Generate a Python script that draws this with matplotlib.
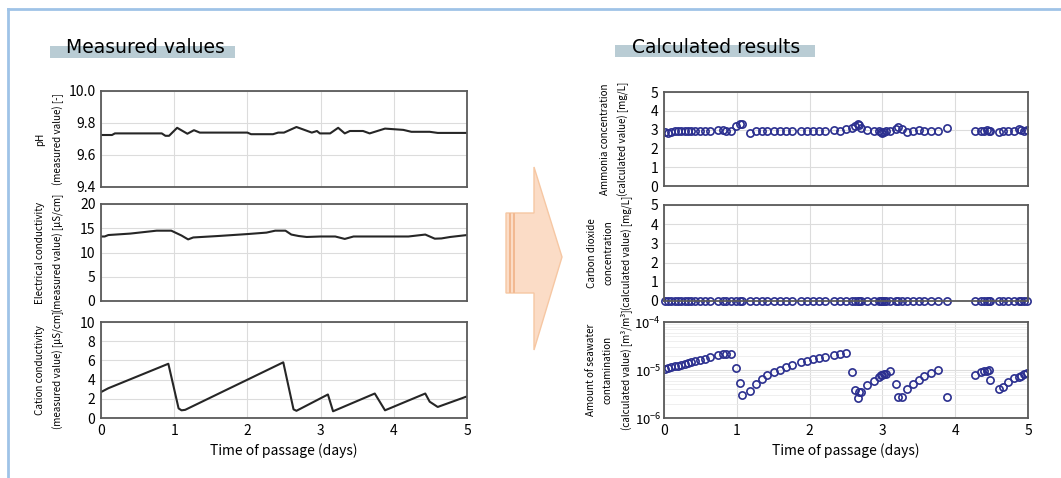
import numpy as np
import matplotlib
matplotlib.use('Agg')
import matplotlib.pyplot as plt
from matplotlib.patches import Polygon, Rectangle
from matplotlib.lines import Line2D
from matplotlib.ticker import LogLocator, NullFormatter

# ---- measured values (left) ----
ph_t = [0, 0.15, 0.19, 0.83, 0.88, 0.93, 1.04, 1.18, 1.27, 1.35, 2.0, 2.05, 2.35, 2.42, 2.5, 2.67,
        2.88, 2.95, 2.99, 3.13, 3.24, 3.33, 3.4, 3.58, 3.67, 3.88, 4.13, 4.24, 4.49, 4.6, 5.0]
ph_v = [9.725, 9.725, 9.735, 9.735, 9.72, 9.72, 9.77, 9.733, 9.755, 9.74, 9.74, 9.73, 9.73, 9.74, 9.74, 9.775,
        9.74, 9.75, 9.735, 9.735, 9.77, 9.735, 9.75, 9.75, 9.735, 9.765, 9.757, 9.745, 9.745, 9.738, 9.738]

ec_t = [0, 0.05, 0.1, 0.4, 0.76, 0.96, 1.1, 1.19, 1.26, 1.6, 2.0, 2.26, 2.38, 2.52, 2.6, 2.7,
        2.81, 3.0, 3.2, 3.33, 3.45, 3.8, 4.2, 4.43, 4.56, 4.65, 4.77, 5.0]
ec_v = [13.3, 13.3, 13.6, 13.9, 14.5, 14.5, 13.5, 12.7, 13.1, 13.4, 13.8, 14.1, 14.5, 14.5, 13.7, 13.4,
        13.2, 13.3, 13.3, 12.8, 13.3, 13.3, 13.3, 13.7, 12.85, 12.9, 13.2, 13.6]

cc_t = [0, 0.1, 0.92, 1.06, 1.1, 1.15, 2.49, 2.63, 2.67, 3.1, 3.17, 3.74, 3.88, 4.43, 4.49, 4.6, 5.0]
cc_v = [2.7, 3.1, 5.65, 1.0, 0.8, 0.85, 5.8, 0.9, 0.75, 2.45, 0.7, 2.55, 0.8, 2.55, 1.7, 1.15, 2.25]

# ---- calculated results (right) ----
calc_t = [0.01, 0.055, 0.10, 0.147, 0.192, 0.238, 0.284, 0.329, 0.375, 0.421, 0.49, 0.558, 0.627, 0.741, 0.81, 0.856, 0.915,
          0.993, 1.038, 1.07, 1.176, 1.258, 1.34, 1.418, 1.505, 1.587, 1.67, 1.752, 1.885, 1.967, 2.044, 2.127, 2.218, 2.342, 2.424, 2.506,
          2.584, 2.63, 2.66, 2.675, 2.71, 2.79, 2.88, 2.95, 2.98, 3.0, 3.02, 3.05, 3.11, 3.18, 3.215, 3.27, 3.34, 3.42, 3.5, 3.577, 3.67, 3.76, 3.887,
          4.276, 4.357, 4.40, 4.44, 4.46, 4.482, 4.605, 4.65, 4.73, 4.81, 4.87, 4.91, 4.94, 4.98]

ammonia = [2.85, 2.8, 2.85, 2.9, 2.9, 2.9, 2.9, 2.9, 2.9, 2.9, 2.95, 2.95, 2.95, 3.0, 3.0, 2.95, 2.9,
           3.2, 3.3, 3.3, 2.8, 2.95, 2.9, 2.95, 2.95, 2.95, 2.95, 2.95, 2.95, 2.95, 2.9, 2.95, 2.95, 3.0, 2.95, 3.05,
           3.1, 3.2, 3.3, 3.25, 3.1, 3.0, 2.9, 2.95, 2.85, 2.8, 2.85, 2.9, 2.95, 3.05, 3.15, 3.05, 2.85, 2.95, 3.0, 2.95, 2.95, 2.9, 3.1,
           2.95, 2.95, 2.9, 3.0, 2.95, 2.95, 2.85, 2.95, 2.9, 2.95, 3.05, 3.0, 2.9, 3.0]

co2 = [0.0] * len(calc_t)

seawater = [1.06e-5, 1.11e-5, 1.15e-5, 1.20e-5, 1.24e-5, 1.30e-5, 1.35e-5, 1.39e-5, 1.46e-5, 1.53e-5, 1.61e-5, 1.71e-5, 1.85e-5, 2.01e-5, 2.11e-5, 2.14e-5, 2.18e-5,
            1.09e-5, 5.30e-6, 2.97e-6, 3.66e-6, 5.14e-6, 6.43e-6, 8.05e-6, 9.0e-6, 1.01e-5, 1.13e-5, 1.28e-5, 1.46e-5, 1.56e-5, 1.66e-5, 1.74e-5, 1.85e-5, 2.04e-5, 2.14e-5, 2.21e-5,
            9.0e-6, 3.91e-6, 2.57e-6, 3.44e-6, 3.47e-6, 4.9e-6, 6.0e-6, 7.3e-6, 7.76e-6, 7.94e-6, 8.13e-6, 8.3e-6, 9.4e-6, 5.1e-6, 2.79e-6, 2.79e-6, 4.05e-6, 5.1e-6, 6.24e-6, 7.67e-6, 8.57e-6, 9.77e-6, 2.70e-6,
            8.05e-6, 9.0e-6, 9.55e-6, 9.66e-6, 9.77e-6, 6.24e-6, 4.05e-6, 4.37e-6, 5.5e-6, 6.76e-6, 7.24e-6, 7.67e-6, 8.13e-6, 8.6e-6]

days = [0, 1, 2, 3, 4, 5]

plt.rcParams['font.family'] = ['Noto Sans CJK JP', 'DejaVu Sans']
spine_col = '#5a5a5a'
grid_col = '#dcdcdc'
mark_col = '#2b2f8f'

fig = plt.figure(figsize=(10.61, 4.78), dpi=100)
W, H = 1061, 478


def box(x0, y0, x1, y1):
    return [x0 / W, 1 - y1 / H, (x1 - x0) / W, (y1 - y0) / H]


def style(ax, yticks, ylabel, show_x, label_x, fmt=None):
    ax.set_xlim(0, 5)
    ax.set_xticks(days)
    ax.grid(True, color=grid_col, lw=0.8)
    ax.set_axisbelow(True)
    for s in ax.spines.values():
        s.set_color(spine_col)
        s.set_linewidth(1.3)
    ax.tick_params(length=0, labelsize=10, pad=4)
    if yticks is not None:
        ax.set_yticks(yticks)
        if fmt:
            ax.set_yticklabels([fmt.format(v) for v in yticks])
    if show_x:
        ax.set_xticklabels([str(d) for d in days])
        ax.set_xlabel('Time of passage (days)', fontsize=10, labelpad=4)
    else:
        ax.set_xticklabels([])
    ax.set_ylabel(ylabel, fontsize=7.1, linespacing=1.85)
    ax.yaxis.set_label_coords(label_x, 0.5)


# left column
ax1 = fig.add_axes(box(101, 91, 467, 187))
ax1.plot(ph_t, ph_v, color='#262626', lw=1.5)
ax1.set_ylim(9.4, 10.0)
style(ax1, [9.4, 9.6, 9.8, 10.0], 'pH\n(measured value) [-]', False, -0.1, '{:.1f}')

ax2 = fig.add_axes(box(101, 204, 467, 301))
ax2.plot(ec_t, ec_v, color='#262626', lw=1.5)
ax2.set_ylim(0, 20)
style(ax2, [0, 5, 10, 15, 20], 'Electrical conductivity\n(measured value) [\u03bcS/cm]', False, -0.1)

ax3 = fig.add_axes(box(101, 322, 467, 418))
ax3.plot(cc_t, cc_v, color='#262626', lw=1.5)
ax3.set_ylim(0, 10)
style(ax3, [0, 2, 4, 6, 8, 10], 'Cation conductivity\n(measured value) [\u03bcS/cm]', True, -0.1)

# right column
mk = dict(marker='o', ls='none', ms=5.2, mfc='none', mec=mark_col, mew=1.2)

ax4 = fig.add_axes(box(664, 92, 1028, 186))
ax4.plot(calc_t, ammonia, **mk)
ax4.set_ylim(0, 5)
style(ax4, [0, 1, 2, 3, 4, 5], 'Ammonia concentration\n(calculated value) [mg/L]', False, -0.095)

ax5 = fig.add_axes(box(664, 205, 1028, 301))
ax5.plot(calc_t, co2, clip_on=False, **mk)
ax5.set_ylim(0, 5)
style(ax5, [0, 1, 2, 3, 4, 5], 'Carbon dioxide\nconcentration\n(calculated value) [mg/L]', False, -0.085)

ax6 = fig.add_axes(box(664, 322, 1028, 418))
ax6.plot(calc_t, seawater, **mk)
ax6.set_yscale('log')
ax6.set_ylim(1e-6, 1e-4)
style(ax6, None, 'Amount of seawater\ncontamination\n(calculated value) [m\u00b3/m\u00b3]', True, -0.088)
ax6.yaxis.set_major_locator(LogLocator(base=10, numticks=5))
ax6.yaxis.set_minor_locator(LogLocator(base=10, subs=np.arange(2, 10), numticks=20))
ax6.yaxis.set_minor_formatter(NullFormatter())
ax6.grid(True, which='minor', axis='y', color='#ececec', lw=0.6)
ax6.tick_params(which='minor', length=0)
ax6.tick_params(axis='y', labelsize=9.5, pad=2)

# section titles
fig.add_artist(Rectangle((50 / W, 1 - 58 / H), 185 / W, 12 / H, transform=fig.transFigure,
                         facecolor='#b9ccd4', edgecolor='none', zorder=1))
fig.text(66 / W, 1 - 53 / H, 'Measured values', fontsize=13.5, family='DejaVu Sans',
         va='baseline', ha='left', zorder=2)
fig.add_artist(Rectangle((615 / W, 1 - 57 / H), 200 / W, 12 / H, transform=fig.transFigure,
                         facecolor='#b9ccd4', edgecolor='none', zorder=1))
fig.text(632 / W, 1 - 53 / H, 'Calculated results', fontsize=13.5, family='DejaVu Sans',
         va='baseline', ha='left', zorder=2)

# arrow between the two columns
arrow_px = [(506, 213), (534, 213), (534, 167), (562, 257), (534, 350), (534, 293), (506, 293)]
fig.add_artist(Polygon([(x / W, 1 - y / H) for x, y in arrow_px], closed=True, transform=fig.transFigure,
                       facecolor='#fbdcc6', edgecolor='#f6c7a3', lw=1.0))
for xs in (510, 514):
    fig.add_artist(Line2D([xs / W, xs / W], [1 - 214 / H, 1 - 292 / H], transform=fig.transFigure,
                          color='#f2b68c', lw=1.3))

# light blue frame
fig.add_artist(Line2D([8 / W, 1], [1 - 9 / H, 1 - 9 / H], transform=fig.transFigure, color='#9fc3e7', lw=2))
fig.add_artist(Line2D([8 / W, 8 / W], [1 - 9 / H, 0], transform=fig.transFigure, color='#9fc3e7', lw=2))

fig.savefig('out.png', dpi=100)
